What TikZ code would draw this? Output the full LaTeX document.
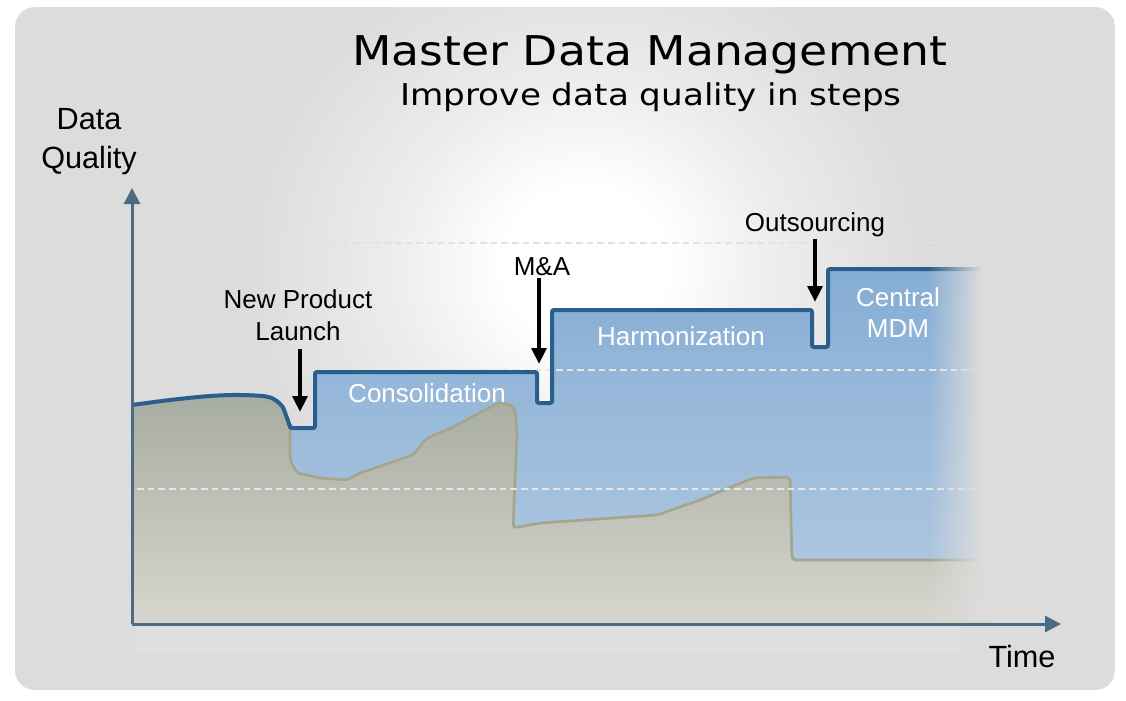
\documentclass[tikz,border=0pt]{standalone}
\usepackage{graphicx}
\usepackage{fontspec}
\setmainfont{Liberation Sans}
\newfontfamily\titlefont{DejaVu Sans}
\usetikzlibrary{fadings,arrows.meta}
\definecolor{bgc}{HTML}{DCDCDC}
\definecolor{glowmid}{HTML}{EDEDED}
\definecolor{axisc}{HTML}{4A6C82}
\definecolor{stepc}{HTML}{2A5E8C}
\definecolor{bluetop}{HTML}{86ADD4}
\definecolor{bluemid}{HTML}{96B8DA}
\definecolor{bluebot}{HTML}{B4CBE2}
\definecolor{graytop}{HTML}{A7ACA1}
\definecolor{graymid}{HTML}{C7C2AF}
\definecolor{graybot}{HTML}{D8D6CF}
\definecolor{grayline}{HTML}{A4A58D}
\definecolor{gridc}{HTML}{E6E6E6}
\pgfdeclareradialshading{glow}{\pgfpoint{0bp}{0bp}}{color(0bp)=(white); color(6bp)=(white); color(14bp)=(glowmid); color(25bp)=(bgc); color(50bp)=(bgc)}
\tikzfading[name=fadeinR, left color=transparent!100, right color=transparent!0]
\tikzset{
  axisline/.style={draw=axisc, line width=2.25pt, -{Triangle[length=12pt,width=12pt]}},
  stepline/.style={draw=stepc, line width=3pt, rounded corners=1.5pt},
  evtarrow/.style={draw=black, line width=3pt, -{Triangle[length=12pt,width=11pt]}},
  gridline/.style={draw=gridc, line width=1.1pt, dash pattern=on 5pt off 3pt},
  evtlabel/.style={font=\fontsize{19.5}{23}\selectfont, text=black, anchor=base, inner sep=0pt},
  phaselabel/.style={font=\fontsize{19.5}{23}\selectfont, text=white, anchor=base, inner sep=0pt},
  axislabel/.style={font=\fontsize{23}{28}\selectfont, text=black, anchor=base, inner sep=0pt}
}
\begin{document}
\begin{tikzpicture}[x=0.75pt,y=-0.75pt]
\useasboundingbox (0,0) rectangle (1126,700);
\fill[white] (0,0) rectangle (1126,700);
% background panel with glow
\begin{scope}
  \clip[rounded corners=15pt] (15,7) rectangle (1115,690);
  \fill[bgc] (15,7) rectangle (1115,690);
  \shade[shading=glow] (585,265) ellipse [x radius=340, y radius=320];
\end{scope}
% blue area
\shade[top color=bluetop, middle color=bluemid, bottom color=bluebot]
  plot[smooth] coordinates {(132,405) (170,400) (210,396) (240,395) (268,397) (281,405) (287,418) (290,428)}
  -- (315,428) -- (315,372) -- (537,372) -- (537,403) -- (552,403) -- (552,310)
  -- (812,310) -- (812,347) -- (828,347) -- (828,269) -- (992,269) -- (992,624) -- (132,624) -- cycle;
% gray area
\shade[top color=graytop, middle color=graymid, bottom color=graybot, rounded corners=3pt]
  plot[smooth] coordinates {(132,405) (170,400) (210,396) (240,395) (268,397) (281,405) (287,418) (290,428)}
  -- (290,460) -- (297,473) -- (320,478) -- (347,480) -- (360,473) -- (413,455) -- (427,438)
  -- (453,427) -- (500,402) -- (515,407) -- (517,433) -- (513,528) -- (540,523) -- (657,515)
  -- (700,500) -- (753,478) -- (790,477) -- (792,560) -- (992,560) -- (992,624) -- (132,624) -- cycle;
\draw[grayline, line width=2pt, rounded corners=3pt]
  (290,428) -- (290,460) -- (297,473) -- (320,478) -- (347,480) -- (360,473) -- (413,455) -- (427,438)
  -- (453,427) -- (500,402) -- (515,407) -- (517,433) -- (513,528) -- (540,523) -- (657,515)
  -- (700,500) -- (753,478) -- (790,477) -- (792,560) -- (992,560);
% grid lines
\coordinate (g1a) at (320,243); \coordinate (g1b) at (985,243);
\coordinate (g2a) at (300,370); \coordinate (g2b) at (985,370);
\coordinate (g3a) at (137,489); \coordinate (g3b) at (985,489);
\draw[gridline, draw=gridc!60!bgc] (g1a) -- (g1b);
\draw[gridline] (g2a) -- (g2b);
\draw[gridline] (g3a) -- (g3b);
% step line
\draw[stepline]
  plot[smooth] coordinates {(132,405) (170,400) (210,396) (240,395) (268,397) (281,405) (287,418) (290,428)}
  -- (315,428) -- (315,372) -- (537,372) -- (537,403) -- (552,403) -- (552,310)
  -- (812,310) -- (812,347) -- (828,347) -- (828,269) -- (992,269);
% right fade
\fill[bgc, path fading=fadeinR] (928,225) rectangle (982,621);
\fill[bgc] (981,225) rectangle (1000,621);
% reflection below axis
\fill[white, opacity=0.12] (135,627) rectangle (960,652);
% axes
\coordinate (orig) at (132,624);
\coordinate (ytip) at (132,188);
\coordinate (xtip) at (1061,624);
\draw[axisline] (orig) -- (ytip);
\draw[axisline] (orig) -- (xtip);
% titles
\node[font=\titlefont\fontsize{30.75}{36}\selectfont, anchor=base, inner sep=0pt] (title) at (650,65) {\scalebox{1.114}[1]{Master Data Management}};
\node[font=\titlefont\fontsize{22.5}{27}\selectfont, anchor=base, inner sep=0pt] (subtitle) at (651,105) {\scalebox{1.14}[1]{Improve data quality in steps}};
% axis labels
\node[axislabel] (dq1) at (89,129) {Data};
\node[axislabel] (dq2) at (89,168) {Quality};
\node[axislabel] (time) at (1022,667) {Time};
% phase labels
\node[phaselabel] (cons) at (427,402) {Consolidation};
\node[phaselabel] (harm) at (681,345) {Harmonization};
\node[phaselabel] (cen1) at (898,306) {Central};
\node[phaselabel] (cen2) at (898,337) {MDM};
% event labels and arrows
\node[evtlabel] (np1) at (298,308) {New Product};
\node[evtlabel] (np2) at (298,340) {Launch};
\node[evtlabel] (ma) at (542,275) {M\&A};
\node[evtlabel] (outs) at (815,231) {Outsourcing};
\coordinate (npA) at (300,349); \coordinate (npB) at (300,412);
\coordinate (maA) at (539,278); \coordinate (maB) at (539,364);
\coordinate (ouA) at (815,239); \coordinate (ouB) at (815,302);
\draw[evtarrow] (npA) -- (npB);
\draw[evtarrow] (maA) -- (maB);
\draw[evtarrow] (ouA) -- (ouB);
\end{tikzpicture}
\end{document}
